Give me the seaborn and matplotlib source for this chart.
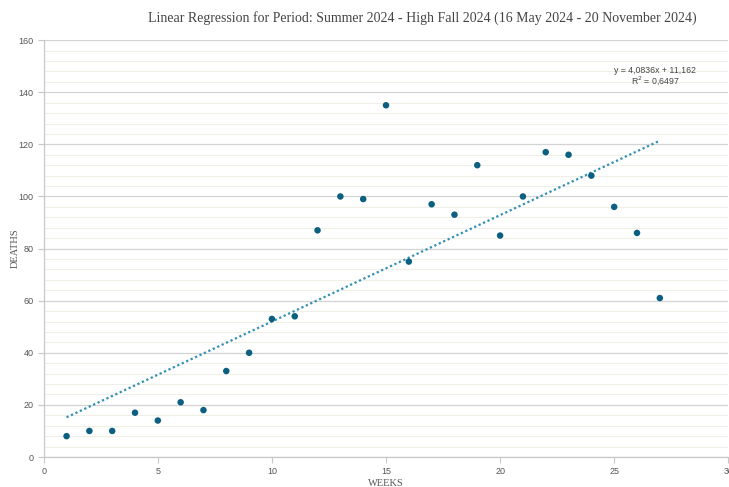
import numpy as np
import pandas as pd
import matplotlib
matplotlib.use("Agg")
import matplotlib.pyplot as plt
from matplotlib.ticker import MultipleLocator
import seaborn as sns

# Weekly deaths, 16 May 2024 - 20 November 2024
weeks = list(range(1, 28))
deaths = [8, 10, 10, 17, 14, 21, 18, 33, 40, 53, 54, 87, 100, 99, 135,
          75, 97, 93, 112, 85, 100, 117, 116, 108, 96, 86, 61]

# Linear trendline coefficients
slope = 4.0836
intercept = 11.162
r_squared = 0.6497

df = pd.DataFrame({"WEEKS": weeks, "DEATHS": deaths})

sns.set_theme(style="white")
plt.rcParams["font.family"] = ["Liberation Sans", "DejaVu Sans"]

fig = plt.figure(figsize=(7.29, 4.87), dpi=100)
ax = fig.add_axes([0.060, 0.0616, 0.939, 0.856])

point_color = "#0b5f80"
line_color = "#2f8fb5"

# trendline across the observed weeks
tx = np.array([weeks[0], weeks[-1]], dtype=float)
ty = slope * tx + intercept
sns.lineplot(x=tx, y=ty, ax=ax, color=line_color, linestyle=(0, (1, 1.2)),
             linewidth=1.6, zorder=2)

sns.scatterplot(data=df, x="WEEKS", y="DEATHS", ax=ax, color=point_color,
                s=22, edgecolor="none", zorder=3)

ax.set_xlim(0, 30)
ax.set_ylim(0, 160)
ax.xaxis.set_major_locator(MultipleLocator(5))
ax.yaxis.set_major_locator(MultipleLocator(20))
ax.yaxis.set_minor_locator(MultipleLocator(4))

ax.grid(which="major", axis="y", color="#d3d3d3", linewidth=0.9)
ax.grid(which="minor", axis="y", color="#efefe8", linewidth=0.8)
ax.set_axisbelow(True)

for side in ["top", "right"]:
    ax.spines[side].set_visible(False)
for side in ["left", "bottom"]:
    ax.spines[side].set_color("#c8c8c8")
    ax.spines[side].set_linewidth(0.9)

ax.tick_params(axis="both", which="major", labelsize=6.5, labelcolor="#555555",
               color="#c8c8c8", length=4, width=0.8, bottom=True, left=True)
ax.tick_params(axis="y", which="minor", length=0)

ax.set_xlabel("WEEKS", family="Liberation Serif", fontsize=7.5, color="#555555",
              labelpad=2)
ax.set_ylabel("DEATHS", family="Liberation Serif", fontsize=7.5, color="#555555",
              labelpad=-1)

fmt = lambda v: f"{v}".replace(".", ",")
ax.text(0.893, 0.928, f"y = {fmt(slope)}x + {fmt(intercept)}",
        transform=ax.transAxes, ha="center", va="center", fontsize=6.3,
        color="#444444")
ax.text(0.893, 0.904, f"R$^2$ = {fmt(r_squared)}",
        transform=ax.transAxes, ha="center", va="center", fontsize=6.3,
        color="#444444")

fig.text(0.579, 0.962,
         "Linear Regression for Period: Summer 2024 - High Fall 2024 "
         "(16 May 2024 - 20 November 2024)",
         ha="center", va="center", family="Liberation Serif", fontsize=10,
         color="#444444")

fig.savefig("out.png", dpi=100)
